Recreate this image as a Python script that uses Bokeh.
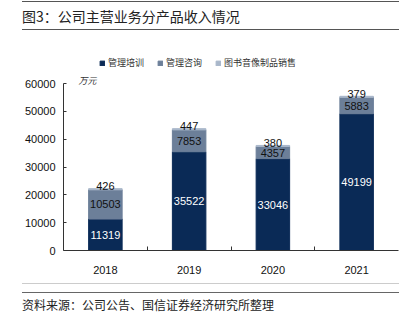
import numpy as np
from bokeh.plotting import figure
from bokeh.layouts import column
from bokeh.models import (ColumnDataSource, Range1d, FixedTicker, Label, Div,
                          Legend, LegendItem, LabelSet)
from bokeh.core.properties import value
from bokeh.embed import file_html
from bokeh.resources import INLINE

years = ["2018", "2019", "2020", "2021"]
training = [11319, 35522, 33046, 49199]
consulting = [10503, 7853, 4357, 5883]
books = [426, 447, 380, 379]
series_names = ["管理培训", "管理咨询", "图书音像制品销售"]
y_ticks = [0, 10000, 20000, 30000, 40000, 50000, 60000]
title_text = "图3：公司主营业务分产品收入情况"
source_text = "资料来源：公司公告、国信证券经济研究所整理"
unit_text = "万元"

colors = ["#0A2A56", "#6C7F99", "#A9B7CA"]
W, H = 407, 328
TOP_H = 40          # header strip height
BOT_Y = 276         # footer strip starts here
FL, FR = 63, 398    # plot frame left / right (canvas px)
Y60, Y0 = 84, 254   # canvas px of 60000 and 0
CJK = "Noto Sans CJK SC"
NUM = "Liberation Sans"

# ---------------- header ----------------
header_html = (
    f'<div style="margin:1px 0 0 22px;width:377px;height:29px;line-height:29px;'
    f'border-top:1.5px solid #555555;border-bottom:1.5px solid #555555;'
    f"font-family:'{CJK}';font-size:14px;color:#222222;white-space:nowrap;\">{title_text}</div>"
)
top = Div(text=header_html, width=W, height=TOP_H, margin=(0, 0, 0, 0),
          styles={"overflow": "hidden"})

# ---------------- main chart ----------------
MAIN_H = BOT_Y - TOP_H
y_end = 60000 * (Y0 - TOP_H) / (Y0 - Y60)

x = np.arange(len(years)) + 0.5
tr = np.array(training)
co = np.array(consulting)
bo = np.array(books)
src = ColumnDataSource(dict(
    x=x, tr=tr, co=co, bo=bo,
    b0=np.zeros(len(x)), b1=tr, b2=tr + co, b3=tr + co + bo,
    m1=tr / 2, m2=tr + co / 2, m3=tr + co + bo / 2,
    ltr=[str(v) for v in training], lco=[str(v) for v in consulting], lbo=[str(v) for v in books],
))

p = figure(width=W, height=MAIN_H, output_backend="svg", toolbar_location=None,
           x_range=Range1d(0, len(years)), y_range=Range1d(0, y_end),
           min_border_left=FL, min_border_right=W - FR, min_border_top=0,
           min_border_bottom=BOT_Y - Y0)
p.outline_line_color = None
p.grid.visible = False

r1 = p.vbar(x="x", bottom="b0", top="b1", width=0.4, color=colors[0], source=src)
r2 = p.vbar(x="x", bottom="b1", top="b2", width=0.4, color=colors[1], source=src)
r3 = p.vbar(x="x", bottom="b2", top="b3", width=0.4, color=colors[2], source=src)

p.add_layout(LabelSet(x="x", y="m1", text="ltr", source=src, text_align="center",
                      text_baseline="middle", text_color="white", text_font=value(NUM),
                      text_font_size="11px"))
p.add_layout(LabelSet(x="x", y="m2", text="lco", source=src, text_align="center",
                      text_baseline="middle", text_color="#111111", text_font=value(NUM),
                      text_font_size="11px"))
p.add_layout(LabelSet(x="x", y="m3", text="lbo", source=src, text_align="center",
                      text_baseline="middle", text_color="#111111", text_font=value(NUM),
                      text_font_size="11px", y_offset=3))

p.yaxis.ticker = FixedTicker(ticks=y_ticks)
p.yaxis.bounds = (0, 60000)
p.yaxis.major_tick_in = 3
p.yaxis.major_tick_out = 0
p.yaxis.minor_tick_line_color = None
p.yaxis.axis_line_color = "#333333"
p.yaxis.major_tick_line_color = "#333333"
p.yaxis.major_label_standoff = 8
p.yaxis.major_label_text_font = NUM
p.yaxis.major_label_text_font_size = "11px"
p.yaxis.major_label_text_color = "#111111"

p.xaxis.ticker = FixedTicker(ticks=list(x), minor_ticks=list(range(1, len(years))))
p.xaxis.major_label_overrides = {float(v): y for v, y in zip(x, years)}
p.xaxis.major_tick_line_color = None
p.xaxis.minor_tick_in = 4
p.xaxis.minor_tick_out = 0
p.xaxis.minor_tick_line_color = "#333333"
p.xaxis.axis_line_color = "#333333"
p.xaxis.major_label_standoff = 9
p.xaxis.major_label_text_font = NUM
p.xaxis.major_label_text_font_size = "11px"
p.xaxis.major_label_text_color = "#111111"

legend = Legend(items=[LegendItem(label=series_names[i], renderers=[r]) for i, r in enumerate([r1, r2, r3])],
                orientation="horizontal", location=(99 - FL, Y0 - 73),
                glyph_width=6, glyph_height=6, label_standoff=3, spacing=13, padding=0, margin=0,
                label_text_font=CJK, label_text_font_size="9px", label_text_color="#333333",
                border_line_color=None, background_fill_alpha=0, label_height=10)
p.add_layout(legend, "center")

p.add_layout(Label(x=78 - FL, y=Y0 - 84, x_units="screen", y_units="screen", text=unit_text,
                   text_font=CJK, text_font_size="9px", text_font_style="italic",
                   text_baseline="middle", text_color="#333333"))

# ---------------- footer ----------------
footer_html = (
    '<div style="margin:7px 0 0 22px;width:377px;height:9px;border-top:1px solid #CCCCCC;"></div>'
    '<div style="margin:0 0 0 22px;width:377px;height:24px;line-height:24px;'
    'border-top:1.5px solid #666666;'
    f"font-family:'{CJK}';font-size:12px;color:#222222;white-space:nowrap;\">{source_text}</div>"
)
bot = Div(text=footer_html, width=W, height=H - BOT_Y, margin=(0, 0, 0, 0),
          styles={"overflow": "hidden"})

layout = column(top, p, bot, spacing=0)
open("out.html", "w").write(file_html(layout, INLINE))
